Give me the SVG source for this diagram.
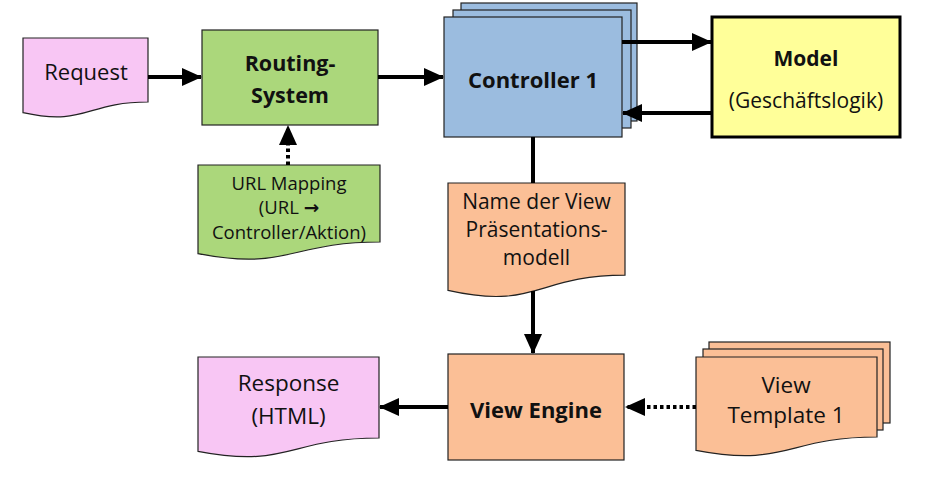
<svg xmlns="http://www.w3.org/2000/svg" width="929" height="485" viewBox="0 0 929 485">
<style>
.box{stroke:#222;stroke-width:1.2}
.pink{fill:#F8C6F4}
.green{fill:#ABD77B}
.blue{fill:#9BBCDF}
.yellow{fill:#FFFF99}
.peach{fill:#FBBF96}
.t{font-family:"Open Sans","Liberation Sans",sans-serif;font-size:21px;fill:#111;text-anchor:middle}
.b{font-weight:bold;font-size:22px}
.line{stroke:#000;stroke-width:4;fill:none}
.dot{stroke-dasharray:3.5 3}
</style>
<defs>
<marker id="ah" markerUnits="userSpaceOnUse" markerWidth="20" markerHeight="18" refX="19" refY="9" orient="auto">
<path d="M0,0 L20,9 L0,18 Z" fill="#000"/>
</marker>
</defs>
<g id="request">
<path class="box pink" d="M23,38 H148 V102 C85.5,102 85.5,126.6 23,112.7 Z"/>
<text class="t" x="86" y="80" style="font-size:22px">Request</text>
</g>
<g id="routing">
<rect class="box green" x="202" y="30" width="176" height="95"/>
<text class="t b" x="290" y="71" style="font-size:21.5px">Routing-</text>
<text class="t b" x="290" y="103" style="font-size:21.5px">System</text>
</g>
<g id="controller">
<rect class="box blue" x="461" y="3" width="176" height="118"/>
<rect class="box blue" x="453" y="10" width="178" height="118"/>
<rect class="box blue" x="444" y="17" width="178" height="120"/>
<text class="t b" x="533" y="88">Controller 1</text>
</g>
<g id="model">
<rect class="yellow" x="712" y="17" width="188" height="120" stroke="#000" stroke-width="3"/>
<text class="t b" x="806" y="66" style="font-size:21px">Model</text>
<text class="t" x="806" y="108">(Geschäftslogik)</text>
</g>
<g id="urlmapping">
<path class="box green" d="M198,165 H380 V242 C289,242 289,271 198,253.7 Z"/>
<text class="t" x="289" y="190" style="font-size:18.5px">URL Mapping</text>
<text class="t" x="289" y="214" style="font-size:18.5px">(URL <tspan style="font-family:'DejaVu Sans',sans-serif;font-weight:bold">→</tspan></text>
<text class="t" x="289" y="239" style="font-size:18.5px">Controller/Aktion)</text>
</g>
<g id="viewname">
<path class="box peach" d="M448,183 H625 V275.2 C536.5,275.2 536.5,310.4 448,290.4 Z"/>
<text class="t" x="536.5" y="209">Name der View</text>
<text class="t" x="536.5" y="237">Präsentations-</text>
<text class="t" x="536.5" y="265">modell</text>
</g>
<g id="viewengine">
<rect class="box peach" x="448" y="354" width="176" height="106"/>
<text class="t b" x="536" y="418">View Engine</text>
</g>
<g id="response">
<path class="box pink" d="M198,357 H379 V438 C288.5,438 288.5,468.9 198,451.3 Z"/>
<text class="t" x="288.5" y="391" style="font-size:22.5px">Response</text>
<text class="t" x="288.5" y="424" style="font-size:22.5px">(HTML)</text>
</g>
<g id="viewtemplate">
<rect class="box peach" x="709" y="342" width="181" height="81"/>
<rect class="box peach" x="703" y="349" width="180" height="81"/>
<path class="box peach" d="M696,357 H877 V437 C786.5,437 786.5,467.8 696,450.4 Z"/>
<text class="t" x="786" y="393" style="font-size:22.5px">View</text>
<text class="t" x="786" y="423" style="font-size:22.5px">Template 1</text>
</g>
<g id="connectors">
<line class="line" x1="148" y1="77" x2="201" y2="77" marker-end="url(#ah)"/>
<line class="line" x1="378" y1="77" x2="443" y2="77" marker-end="url(#ah)"/>
<line class="line" x1="622" y1="42" x2="711" y2="42" marker-end="url(#ah)"/>
<line class="line" x1="712" y1="113" x2="623" y2="113" marker-end="url(#ah)"/>
<line class="line dot" x1="288" y1="165" x2="288" y2="126" marker-end="url(#ah)"/>
<line class="line" x1="533" y1="137" x2="533" y2="183"/>
<line class="line" x1="533" y1="291" x2="533" y2="353" marker-end="url(#ah)"/>
<line class="line" x1="448" y1="407" x2="380" y2="407" marker-end="url(#ah)"/>
<line class="line dot" x1="696" y1="407" x2="626" y2="407" marker-end="url(#ah)"/>
</g>
</svg>
